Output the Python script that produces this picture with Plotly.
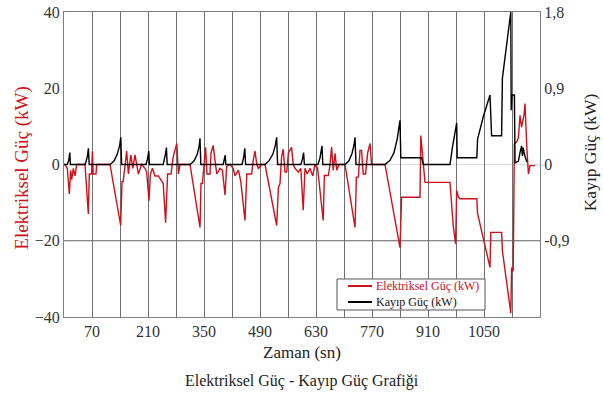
import plotly.graph_objects as go

# ---- data ----
time_elec = [0, 2.5, 8.3, 13.3, 16.7, 19.2, 23.3, 27.5, 31.7, 52.5, 60.8, 63.3, 69, 71, 73, 80, 81.7, 115,
             141.7, 145, 148, 152.5, 156.7, 161, 167, 172, 177.5, 186, 194, 202.5, 206.7, 212.5, 216, 221,
             227.5, 236, 248, 254, 259, 267.5, 273, 282, 286, 290, 315, 340, 342.5, 346, 351, 354, 357.5,
             365, 367.5, 373, 377.5, 382, 390, 396, 402.5, 406.7, 415, 423, 427.5, 436, 442, 452.5, 457,
             469, 473, 477.5, 482, 486, 494, 502.5, 531.7, 536, 540, 544, 548, 552.5, 556.7, 561, 569, 573,
             577.5, 586, 592, 598, 602.5, 608, 615, 622, 627.5, 634, 648, 651, 661, 665, 669, 673, 677.5,
             682, 687.5, 702.5, 727.5, 731, 736, 740, 744, 748, 754, 759, 765, 769, 802.5, 840, 844, 890,
             892, 894, 898, 902.5, 965, 969, 973, 979, 981.7, 986, 990, 1032, 1034, 1065, 1067, 1094, 1096,
             1117, 1119, 1123, 1126, 1132, 1136, 1140, 1144, 1150, 1152.5, 1157, 1161, 1165, 1178]
elec_power = [0, 0, -1, -7.7, -1.5, -4, -1, -3, 0, 0, -13, -2.5, -2.5, 3.5, -2.5, -2.5, 0, 0,
              -16, -4.5, -4.5, -1, 3.5, -2.5, 2.5, -1, 2.5, -2.5, 0, -1, -2, -9.5, -2.5, -1,
              -3, -3, -5, -15.3, -2.5, -2.5, 2, 5.5, -2.5, 0, 0, -16.5, -5, -5, 2, 4.5, -2.5,
              -2.5, 3, 5, 1, -2.5, -1, -1.5, -8, -0.5, 0, -1, -3, -1.5, -4.5, -14.7, -2.5,
              -2.5, 1, 3.5, 0, -1, 0, 0, -16, -6, -5, 2, 4, -2, -2, 3, 4.5, 0,
              -1, -2, -1, -12, -1, -2.5, -1, -3, 0, -1, -14.7, -2.9, -2.9, 0, 4.6, -1.5, 2.9,
              -1.5, 0, 0, -16.5, -3.3, -3.3, 3.7, 3.7, -2.5, -2.5, 3, 5.5, 0, 0, -21.8, -8.6, -8.6,
              7.6, 5.4, 0, -4.7, -4.7, -10, -16, -20.8, -6.8, -8.5, -9, -9, -12.9, -27, -17.8, -17.8, -22.6,
              -39, -27, -28, 5.4, 6, 7, 12.9, 9.8, 13, 16, 4.6, -2.5, -0.3, -0.3]

time_loss = [0, 8, 12, 14.5, 16, 52.5, 56, 59, 61, 63, 115, 125, 133, 139, 142, 144, 205, 209, 212, 213.5,
             248, 251, 254, 256, 258, 315, 325, 333, 338, 340, 342, 398, 401, 403, 404.5, 445, 449, 452, 454,
             502, 512, 522, 528, 531.7, 534, 592, 596, 599, 601, 635, 640, 645, 647, 702.5, 712, 720, 725,
             727.5, 730, 802.5, 815, 825, 833, 838, 840, 842, 894, 898, 965, 971, 981.7, 983, 1032, 1034,
             1048, 1065, 1069, 1094, 1096, 1117, 1118, 1120, 1126, 1127.5, 1136, 1140, 1144, 1146, 1148,
             1151, 1154, 1157]
loss_power = [0, 0, 0.05, 0.14, 0, 0, 0.05, 0.11, 0.19, 0, 0, 0.04, 0.12, 0.22, 0.32, 0, 0, 0.07, 0.16, 0,
              0, 0.06, 0.13, 0.2, 0, 0, 0.04, 0.12, 0.22, 0.31, 0, 0, 0.06, 0.11, 0, 0, 0.08, 0.19, 0,
              0, 0.04, 0.12, 0.22, 0.32, 0, 0, 0.06, 0.14, 0, 0, 0.08, 0.22, 0, 0, 0.04, 0.13, 0.23,
              0.32, 0, 0, 0.05, 0.14, 0.3, 0.45, 0.52, 0.08, 0.08, 0, 0, 0.2, 0.49, 0.08, 0.08, 0.3,
              0.56, 0.82, 0.34, 0.34, 1.02, 1.8, 0.64, 0.82, 0.82, 0.02, 0.04, 0.14, 0.22, 0.1, 0.2,
              0.12, 0.08, 0.03]

x_tick_vals = [70, 210, 350, 490, 630, 770, 910, 1050]
left_tick_vals = [-40, -20, 0, 20, 40]
right_tick_vals = [-0.9, 0, 0.9, 1.8]
right_tick_text = ["-0,9", "0", "0,9", "1,8"]
series_names = ["Elektriksel Güç (kW)", "Kayıp Güç (kW)"]

FONT = "Liberation Serif"
RED = "#d0101a"
TXT = "#333333"

fig = go.Figure()
fig.add_trace(go.Scatter(x=time_elec, y=elec_power, mode="lines", name=series_names[0],
                         line=dict(color=RED, width=1.4), yaxis="y", showlegend=False))
fig.add_trace(go.Scatter(x=time_loss, y=loss_power, mode="lines", name=series_names[1],
                         line=dict(color="#000000", width=1.4), yaxis="y2", showlegend=False))

# compact legend box drawn in paper coordinates (as in the reference)
lx0, lx1, ly0, ly1 = 0.5735, 0.8845, 0.023, 0.1246
row1, row2 = 0.1016, 0.0492
shapes = [
    dict(type="line", xref="paper", yref="y", x0=0, x1=1, y0=0, y1=0,
         line=dict(color="#dcdcdc", width=1), layer="below"),
    dict(type="line", xref="paper", yref="y", x0=0, x1=1, y0=-20, y1=-20,
         line=dict(color="#606060", width=1), layer="below"),
    dict(type="rect", xref="paper", yref="paper", x0=lx0, x1=lx1, y0=ly0, y1=ly1,
         line=dict(color="#555555", width=1), fillcolor="white", layer="above"),
    dict(type="line", xref="paper", yref="paper", x0=0.5966, x1=0.6471, y0=row1, y1=row1,
         line=dict(color=RED, width=2), layer="above"),
    dict(type="line", xref="paper", yref="paper", x0=0.5966, x1=0.6471, y0=row2, y1=row2,
         line=dict(color="#000000", width=2), layer="above"),
]

fig.update_layout(
    width=603, height=397,
    margin=dict(l=64, r=63, t=12, b=80, autoexpand=False),
    paper_bgcolor="white", plot_bgcolor="white",
    font=dict(family=FONT, size=16, color=TXT),
    showlegend=False,
    xaxis=dict(range=[0, 1190], tickvals=x_tick_vals, ticks="", showgrid=True, automargin=False,
               gridcolor="#707070", gridwidth=1, zeroline=False,
               showline=True, linecolor="#808080", linewidth=1, mirror=True,
               minor=dict(tick0=0, dtick=70, showgrid=True, gridcolor="#707070", gridwidth=1, ticks=""),
               tickfont=dict(family=FONT, size=16, color=TXT)),
    yaxis=dict(range=[-40, 40], tickvals=left_tick_vals, ticks="", showgrid=False, zeroline=False,
               automargin=False, showline=True, linecolor="#808080", linewidth=1,
               tickfont=dict(family=FONT, size=16, color=TXT)),
    yaxis2=dict(range=[-1.8, 1.8], tickvals=right_tick_vals, ticktext=right_tick_text, ticks="",
                overlaying="y", side="right", showgrid=False, zeroline=False, automargin=False,
                showline=True, linecolor="#808080", linewidth=1,
                tickfont=dict(family=FONT, size=16, color=TXT)),
    shapes=shapes,
    annotations=[
        dict(text=series_names[0], xref="paper", yref="paper", x=0.6513, y=row1, xanchor="left",
             yanchor="middle", showarrow=False, font=dict(family=FONT, size=12, color=RED)),
        dict(text=series_names[1], xref="paper", yref="paper", x=0.6513, y=row2, xanchor="left",
             yanchor="middle", showarrow=False, font=dict(family=FONT, size=12, color="#111111")),
        dict(text="Elektriksel Güç (kW)", xref="paper", yref="paper", x=-0.09, y=0.49,
             xanchor="center", yanchor="middle",
             textangle=-90, showarrow=False, font=dict(family=FONT, size=19, color=RED)),
        dict(text="Kayıp Güç (kW)", xref="paper", yref="paper", x=1.105, y=0.54,
             xanchor="center", yanchor="middle",
             textangle=-90, showarrow=False, font=dict(family=FONT, size=17.5, color="#222222")),
        dict(text="Zaman (sn)", xref="paper", yref="paper", x=0.5, y=-0.115,
             xanchor="center", yanchor="middle",
             showarrow=False, font=dict(family=FONT, size=17, color="#222222")),
        dict(text="Elektriksel Güç - Kayıp Güç Grafiği", xref="paper", yref="paper", x=0.5, y=-0.21,
             xanchor="center", yanchor="middle",
             showarrow=False, font=dict(family=FONT, size=16, color="#222222")),
    ],
)

fig.write_html("out.html")
